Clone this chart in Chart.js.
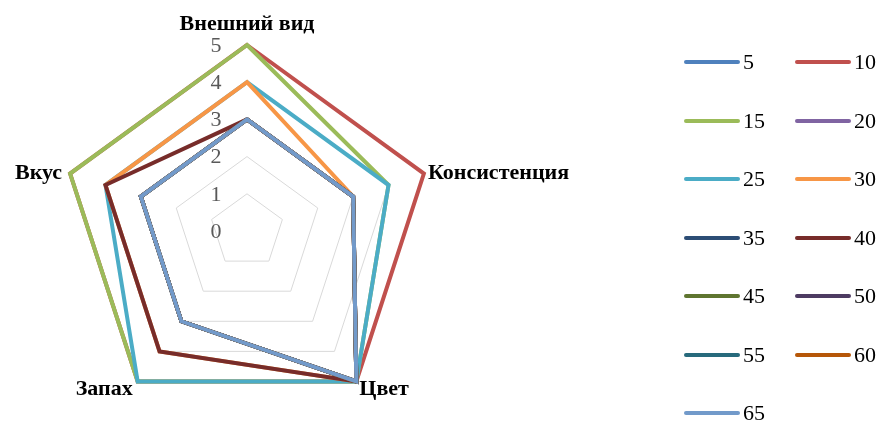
<!DOCTYPE html>
<html>
<head>
<meta charset="utf-8">
<script src="https://cdn.jsdelivr.net/npm/chart.js@4.4.0/dist/chart.umd.min.js"></script>
<style>
  html, body { margin: 0; padding: 0; background: #fff; }
  #wrap { position: relative; width: 882px; height: 423px; overflow: hidden; }
  #chart { position: absolute; left: 0; top: 0; }
  .item { position: absolute; display: flex; align-items: center; height: 26px; margin-top: -13px;
          font: 22px "Liberation Serif", "Times New Roman", serif; color: #000; white-space: nowrap; }
  .item .line { display: inline-block; width: 56px; height: 4px; border-radius: 2px; margin-right: 3px; }
</style>
</head>
<body>
<div id="wrap">
  <canvas id="chart" width="882" height="423"></canvas>
  <div id="legend"></div>
</div>
<script>
const axes = ["Внешний вид", "Консистенция", "Цвет", "Запах", "Вкус"];
const tickValues = [0, 1, 2, 3, 4, 5];
const seriesNames = ["5", "10", "15", "20", "25", "30", "35", "40", "45", "50", "55", "60", "65"];
const colors = ["#4F81BD", "#C0504D", "#9BBB59", "#8064A2", "#4BACC6", "#F79646", "#2C4D75",
                "#772C2A", "#5F7530", "#4D3B62", "#276A7C", "#B65708", "#729ACA"];

// оценки по каждому показателю: вид, консистенция, цвет, запах, вкус
const s5  = [3, 3, 5, 3, 3];
const s10 = [5, 5, 5, 5, 5];
const s15 = [5, 4, 5, 5, 5];
const s20 = [3, 3, 5, 3, 3];
const s25 = [4, 4, 5, 5, 4];
const s30 = [4, 3, 5, 4, 4];
const s35 = [3, 3, 5, 3, 3];
const s40 = [3, 3, 5, 4, 4];
const s45 = [3, 3, 5, 3, 3];
const s50 = [3, 3, 5, 3, 3];
const s55 = [3, 3, 5, 3, 3];
const s60 = [3, 3, 5, 3, 3];
const s65 = [3, 3, 5, 3, 3];
const values = [s5, s10, s15, s20, s25, s30, s35, s40, s45, s50, s55, s60, s65];

const serif = "'Liberation Serif', 'Times New Roman', serif";

// подписи осей и шкалы рисуем сами, чтобы разместить их как в Excel
const labelPlace = [
    { align: "center", dx: 0,  dy: -21 },
    { align: "left",   dx: 4,  dy: 0 },
    { align: "left",   dx: 3,  dy: 8 },
    { align: "right",  dx: -5, dy: 8 },
    { align: "right",  dx: -8, dy: 0 }
];

const scaleText = {
    id: "scaleText",
    beforeDatasetsDraw(chart) {
        const sc = chart.scales.r;
        const ctx = chart.ctx;
        ctx.save();
        ctx.font = "22px " + serif;
        ctx.fillStyle = "#595959";
        ctx.textAlign = "center";
        ctx.textBaseline = "middle";
        tickValues.forEach(v => {
            ctx.fillText(String(v), sc.xCenter - 31, sc.yCenter - sc.getDistanceFromCenterForValue(v) + 1);
        });
        ctx.restore();
    },
    afterDatasetsDraw(chart) {
        const sc = chart.scales.r;
        const ctx = chart.ctx;
        ctx.save();
        ctx.font = "bold 22px " + serif;
        ctx.fillStyle = "#000";
        ctx.textBaseline = "middle";
        axes.forEach((name, i) => {
            const p = sc.getPointPositionForValue(i, sc.max);
            const pl = labelPlace[i];
            ctx.textAlign = pl.align;
            ctx.fillText(name, p.x + pl.dx, p.y + pl.dy);
        });
        ctx.restore();
    }
};

onload = () => {
    const datasets = values.map((d, i) => ({
        label: seriesNames[i],
        data: d,
        borderColor: colors[i],
        backgroundColor: colors[i],
        borderWidth: 4,
        fill: false,
        pointRadius: 0,
        pointHoverRadius: 0,
        borderJoinStyle: "miter",
        clip: false,
        order: values.length - i
    }));

    new Chart(document.getElementById("chart"), {
        type: "radar",
        data: { labels: axes, datasets: datasets },
        options: {
            responsive: false,
            animation: false,
            events: [],
            layout: { padding: { left: 61, top: 45, right: 449, bottom: 6 } },
            plugins: { legend: { display: false }, tooltip: { enabled: false } },
            scales: {
                r: {
                    min: 0,
                    max: 5,
                    ticks: { display: false, stepSize: 1 },
                    pointLabels: { display: false },
                    angleLines: { display: false },
                    grid: { color: "#D9D9D9", lineWidth: 1 }
                }
            }
        },
        plugins: [scaleText]
    });

    // легенда в две колонки справа
    const legend = document.getElementById("legend");
    seriesNames.forEach((name, i) => {
        const item = document.createElement("div");
        item.className = "item";
        item.style.left = (684 + (i % 2) * 111) + "px";
        item.style.top = (62 + Math.floor(i / 2) * 58.5) + "px";
        const line = document.createElement("span");
        line.className = "line";
        line.style.background = colors[i];
        item.appendChild(line);
        item.appendChild(document.createTextNode(name));
        legend.appendChild(item);
    });
};
</script>
</body>
</html>
